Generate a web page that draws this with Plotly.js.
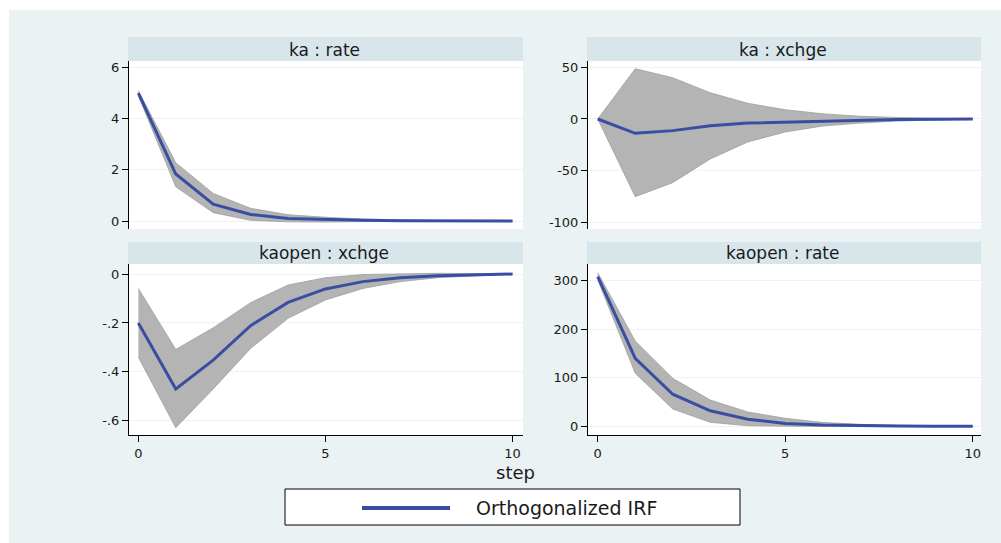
<!DOCTYPE html>
<html>
<head>
<meta charset="utf-8">
<script src="https://cdn.plot.ly/plotly-3.0.1.min.js"></script>
<style>
html,body{margin:0;padding:0;background:#fff;}
#chart{width:1001px;height:543px;}
</style>
</head>
<body>
<div id="chart"></div>
<script>
// ---- data ----
const steps = [0,1,2,3,4,5,6,7,8,9,10];
const panelTitles = ["ka : rate", "ka : xchge", "kaopen : xchge", "kaopen : rate"];

const kaRateIrf = [5.0, 1.84, 0.66, 0.26, 0.10, 0.05, 0.03, 0.01, 0.0, 0.0, 0.0];
const kaRateLo  = [4.9, 1.34, 0.33, 0.03, -0.03, -0.04, -0.02, -0.02, -0.01, -0.01, 0.0];
const kaRateHi  = [5.1, 2.28, 1.08, 0.50, 0.25, 0.15, 0.08, 0.04, 0.02, 0.01, 0.0];

const kaXchgeIrf = [0, -13.9, -11.3, -6.5, -4.0, -3.0, -2.0, -1.0, -0.5, -0.2, 0];
const kaXchgeLo  = [0, -75.4, -61.8, -38.8, -22.3, -12.6, -6.8, -4.0, -2.0, -0.8, 0];
const kaXchgeHi  = [0, 48.8, 40.0, 25.5, 15.2, 9.0, 5.0, 2.6, 1.5, 0.5, 0];

const kaopenXchgeIrf = [-0.20, -0.47, -0.352, -0.211, -0.116, -0.061, -0.031, -0.015, -0.007, -0.003, 0];
const kaopenXchgeLo  = [-0.34, -0.628, -0.47, -0.304, -0.181, -0.106, -0.059, -0.031, -0.015, -0.007, 0];
const kaopenXchgeHi  = [-0.059, -0.308, -0.22, -0.117, -0.045, -0.015, -0.002, 0.002, 0.003, 0.002, 0];

const kaopenRateIrf = [308, 140, 66, 32, 14.4, 6, 2.5, 1, 0.4, 0.1, 0];
const kaopenRateLo  = [301, 109, 35.6, 8.2, 1.2, 0, -0.5, -0.6, -0.4, -0.2, 0];
const kaopenRateHi  = [316, 175.5, 98.8, 54, 29.4, 16.4, 8, 4, 2, 1, 0];

const xTickVals = [0, 5, 10];
const yTicks1 = [0, 2, 4, 6];           const yLabels1 = ["0","2","4","6"];
const yTicks2 = [-100, -50, 0, 50];     const yLabels2 = ["-100","-50","0","50"];
const yTicks3 = [-0.6, -0.4, -0.2, 0];  const yLabels3 = ["-.6","-.4","-.2","0"];
const yTicks4 = [0, 100, 200, 300];     const yLabels4 = ["0","100","200","300"];

const xTitle = "step";
const legendLabel = "Orthogonalized IRF";

// ---- styling ----
const W = 1001, H = 543;
const FONT = "DejaVu Sans";
const TXT = "#1a1a1a";
const BLUE = "#3a4ea1";
const BAND = "#b4b4b4";
const BANDEDGE = "#9e9e9e";
const BG = "#eaf2f3";
const STRIP = "#d8e6ec";
const GRID = "#eef2f3";

const px = v => v / W;
const py = v => (H - v) / H;

const panels = [
  {xa:'x',  ya:'y',  irf:kaRateIrf,      lo:kaRateLo,      hi:kaRateHi},
  {xa:'x2', ya:'y2', irf:kaXchgeIrf,     lo:kaXchgeLo,     hi:kaXchgeHi},
  {xa:'x3', ya:'y3', irf:kaopenXchgeIrf, lo:kaopenXchgeLo, hi:kaopenXchgeHi},
  {xa:'x4', ya:'y4', irf:kaopenRateIrf,  lo:kaopenRateLo,  hi:kaopenRateHi}
];

const traces = [];
panels.forEach(p => {
  traces.push({x:steps, y:p.lo, xaxis:p.xa, yaxis:p.ya, type:'scatter', mode:'lines',
    line:{color:BANDEDGE, width:0.8}, showlegend:false, hoverinfo:'skip'});
  traces.push({x:steps, y:p.hi, xaxis:p.xa, yaxis:p.ya, type:'scatter', mode:'lines',
    fill:'tonexty', fillcolor:BAND, line:{color:BANDEDGE, width:0.8}, showlegend:false, hoverinfo:'skip'});
  traces.push({x:steps, y:p.irf, xaxis:p.xa, yaxis:p.ya, type:'scatter', mode:'lines',
    line:{color:BLUE, width:3}, showlegend:false, name:legendLabel});
});

// panel geometry (px)
const colL = [[129,523],[588,981]];
const rowT = [[61,229],[264,435]];
const stripT = [[37,61],[242,264]];

const tickFont = {family:FONT, size:13, color:TXT};

function xaxisDef(col, row, range){
  return {
    domain:[px(colL[col][0]), px(colL[col][1])],
    anchor: 'y' + (row*2+col+1 === 1 ? '' : (row*2+col+1)),
    range: range,
    showgrid:false, zeroline:false,
    showline: row === 1, linecolor:'#000', linewidth:1,
    ticks: row === 1 ? 'outside' : '', ticklen:6, tickcolor:'#000', tickwidth:1,
    showticklabels: row === 1,
    tickvals: xTickVals, ticktext: xTickVals.map(String),
    tickfont: tickFont, fixedrange:true
  };
}
function yaxisDef(col, row, range, tv, tt){
  return {
    domain:[py(rowT[row][1]), py(rowT[row][0])],
    anchor: 'x' + (row*2+col+1 === 1 ? '' : (row*2+col+1)),
    range: range,
    showgrid:true, gridcolor:GRID, gridwidth:1,
    zeroline:false,
    showline:true, linecolor:'#000', linewidth:1,
    ticks:'outside', ticklen:6, tickcolor:'#000', tickwidth:1,
    tickvals: tv, ticktext: tt,
    tickfont: tickFont, fixedrange:true
  };
}

const shapes = [];
// white outer margin (top and left)
shapes.push({type:'rect', xref:'paper', yref:'paper', x0:0, x1:1, y0:py(10), y1:1,
  fillcolor:'#ffffff', line:{width:0}, layer:'below'});
shapes.push({type:'rect', xref:'paper', yref:'paper', x0:0, x1:px(9), y0:0, y1:1,
  fillcolor:'#ffffff', line:{width:0}, layer:'below'});
// strips
const annotations = [];
[[0,0],[1,0],[0,1],[1,1]].forEach(([c,r], i) => {
  shapes.push({type:'rect', xref:'paper', yref:'paper',
    x0:px(colL[c][0]-1), x1:px(colL[c][1]), y0:py(stripT[r][1]), y1:py(stripT[r][0]),
    fillcolor:STRIP, line:{width:0}, layer:'below'});
  annotations.push({xref:'paper', yref:'paper',
    x:px((colL[c][0]+colL[c][1])/2 - 2), y:py((stripT[r][0]+stripT[r][1])/2 + 0.5),
    xanchor:'center', yanchor:'middle', showarrow:false,
    text: panelTitles[i], font:{family:FONT, size:17, color:TXT}});
});
// x title
annotations.push({xref:'paper', yref:'paper', x:px(515), y:py(472), xanchor:'center', yanchor:'middle',
  showarrow:false, text:xTitle, font:{family:FONT, size:18, color:TXT}});
// legend box
shapes.push({type:'rect', xref:'paper', yref:'paper', x0:px(285), x1:px(740), y0:py(525), y1:py(489),
  fillcolor:'#ffffff', line:{color:'#000', width:1}, layer:'above'});
shapes.push({type:'line', xref:'paper', yref:'paper', x0:px(362), x1:px(450), y0:py(508), y1:py(508),
  line:{color:BLUE, width:4}, layer:'above'});
annotations.push({xref:'paper', yref:'paper', x:px(474), y:py(508), xanchor:'left', yanchor:'middle',
  showarrow:false, text:legendLabel, font:{family:FONT, size:19, color:TXT}});

const layout = {
  width:W, height:H, autosize:false,
  margin:{l:0, r:0, t:0, b:0, pad:0},
  paper_bgcolor:BG, plot_bgcolor:'#ffffff',
  showlegend:false,
  font:{family:FONT, color:TXT},
  xaxis:  xaxisDef(0,0,[-0.25,10.28]),
  yaxis:  yaxisDef(0,0,[-0.31,6.26], yTicks1, yLabels1),
  xaxis2: xaxisDef(1,0,[-0.26,10.22]),
  yaxis2: yaxisDef(1,0,[-106.8,56.3], yTicks2, yLabels2),
  xaxis3: xaxisDef(0,1,[-0.25,10.28]),
  yaxis3: yaxisDef(0,1,[-0.658,0.041], yTicks3, yLabels3),
  xaxis4: xaxisDef(1,1,[-0.26,10.22]),
  yaxis4: yaxisDef(1,1,[-17.9,334], yTicks4, yLabels4),
  shapes: shapes,
  annotations: annotations
};

Plotly.newPlot('chart', traces, layout, {staticPlot:true, displayModeBar:false});
</script>
</body>
</html>
